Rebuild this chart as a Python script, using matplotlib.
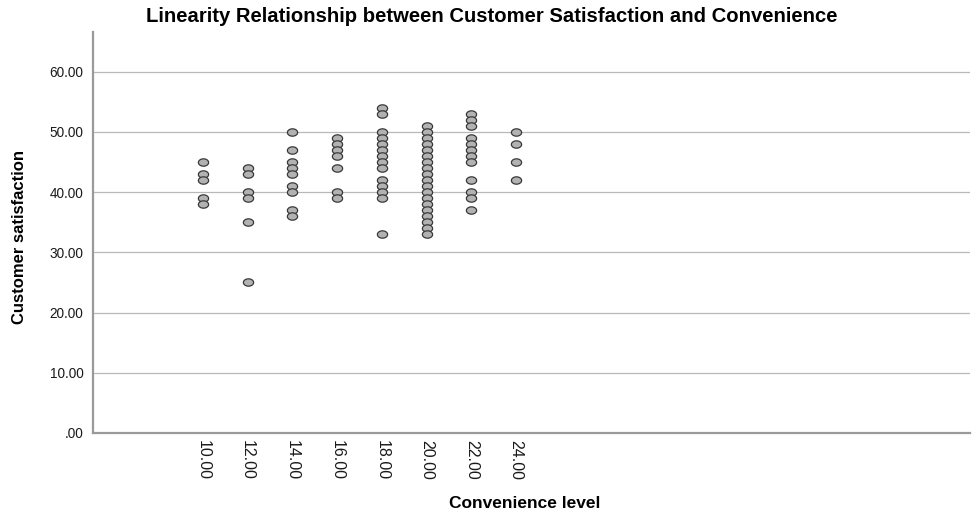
import numpy as np
import matplotlib
matplotlib.use("Agg")
import matplotlib.pyplot as plt
from matplotlib.path import Path
from matplotlib.ticker import FuncFormatter

plt.rcParams['font.family'] = ['Liberation Sans', 'DejaVu Sans']

# Customer satisfaction scores grouped by convenience level
convenience_levels = [10, 12, 14, 16, 18, 20, 22, 24]
satisfaction_10 = [45, 43, 42, 39, 38]
satisfaction_12 = [44, 43, 40, 39, 35, 25]
satisfaction_14 = [50, 47, 45, 44, 43, 41, 40, 37, 36]
satisfaction_16 = [49, 48, 47, 46, 44, 40, 39]
satisfaction_18 = [54, 53, 50, 49, 48, 47, 46, 45, 44, 42, 41, 40, 39, 33]
satisfaction_20 = [51, 50, 49, 48, 47, 46, 45, 44, 43, 42, 41, 40, 39, 38, 37, 36, 35, 34, 33]
satisfaction_22 = [53, 52, 51, 49, 48, 47, 46, 45, 42, 40, 39, 37]
satisfaction_24 = [50, 48, 45, 42]

groups = [satisfaction_10, satisfaction_12, satisfaction_14, satisfaction_16,
          satisfaction_18, satisfaction_20, satisfaction_22, satisfaction_24]

y_ticks = [0, 10, 20, 30, 40, 50, 60]

fig = plt.figure(figsize=(9.73, 5.12), dpi=100)
W, H = 973, 512
ax = fig.add_axes([93 / W, (H - 433) / H, (970 - 93) / W, (433 - 32) / H])

# slightly flattened ellipse marker
t = np.linspace(0, 2 * np.pi, 60)
ellipse = Path(np.column_stack([np.cos(t), 0.72 * np.sin(t)]), closed=True)

for lvl, vals in zip(convenience_levels, groups):
    ax.scatter([lvl] * len(vals), vals, marker=ellipse, s=54,
               facecolor='#b2b2b2', edgecolor='#383838', linewidth=0.9, zorder=3)

ax.set_xlim(5.08, 44.3)
ax.set_ylim(0, 66.6)
ax.set_xticks(convenience_levels)
ax.set_yticks(y_ticks)

def fmt(v, pos):
    s = f"{v:.2f}"
    return s[1:] if s.startswith("0") else s

ax.xaxis.set_major_formatter(FuncFormatter(fmt))
ax.yaxis.set_major_formatter(FuncFormatter(fmt))
ax.tick_params(axis='both', length=0, colors='#1a1a1a')
ax.tick_params(axis='x', labelrotation=270, labelsize=11.5, pad=5)
ax.tick_params(axis='y', labelsize=9.8, pad=7)

ax.grid(axis='y', color='#b8b8b8', linewidth=0.9)
ax.set_axisbelow(True)
for side in ['top', 'right']:
    ax.spines[side].set_visible(False)
for side in ['left', 'bottom']:
    ax.spines[side].set_color('#9a9a9a')
    ax.spines[side].set_linewidth(1.6)

fig.text(20 / W, 1 - 237 / H, 'Customer satisfaction', ha='center', va='center',
         rotation=90, fontsize=12, fontweight='bold')
fig.text(525 / W, 1 - 504 / H, 'Convenience level', ha='center', va='center',
         fontsize=12.5, fontweight='bold')
fig.text(492 / W, 1 - 17 / H, 'Linearity Relationship between Customer Satisfaction and Convenience',
         ha='center', va='center', fontsize=14.6, fontweight='bold')

fig.savefig('out.png', dpi=100)
